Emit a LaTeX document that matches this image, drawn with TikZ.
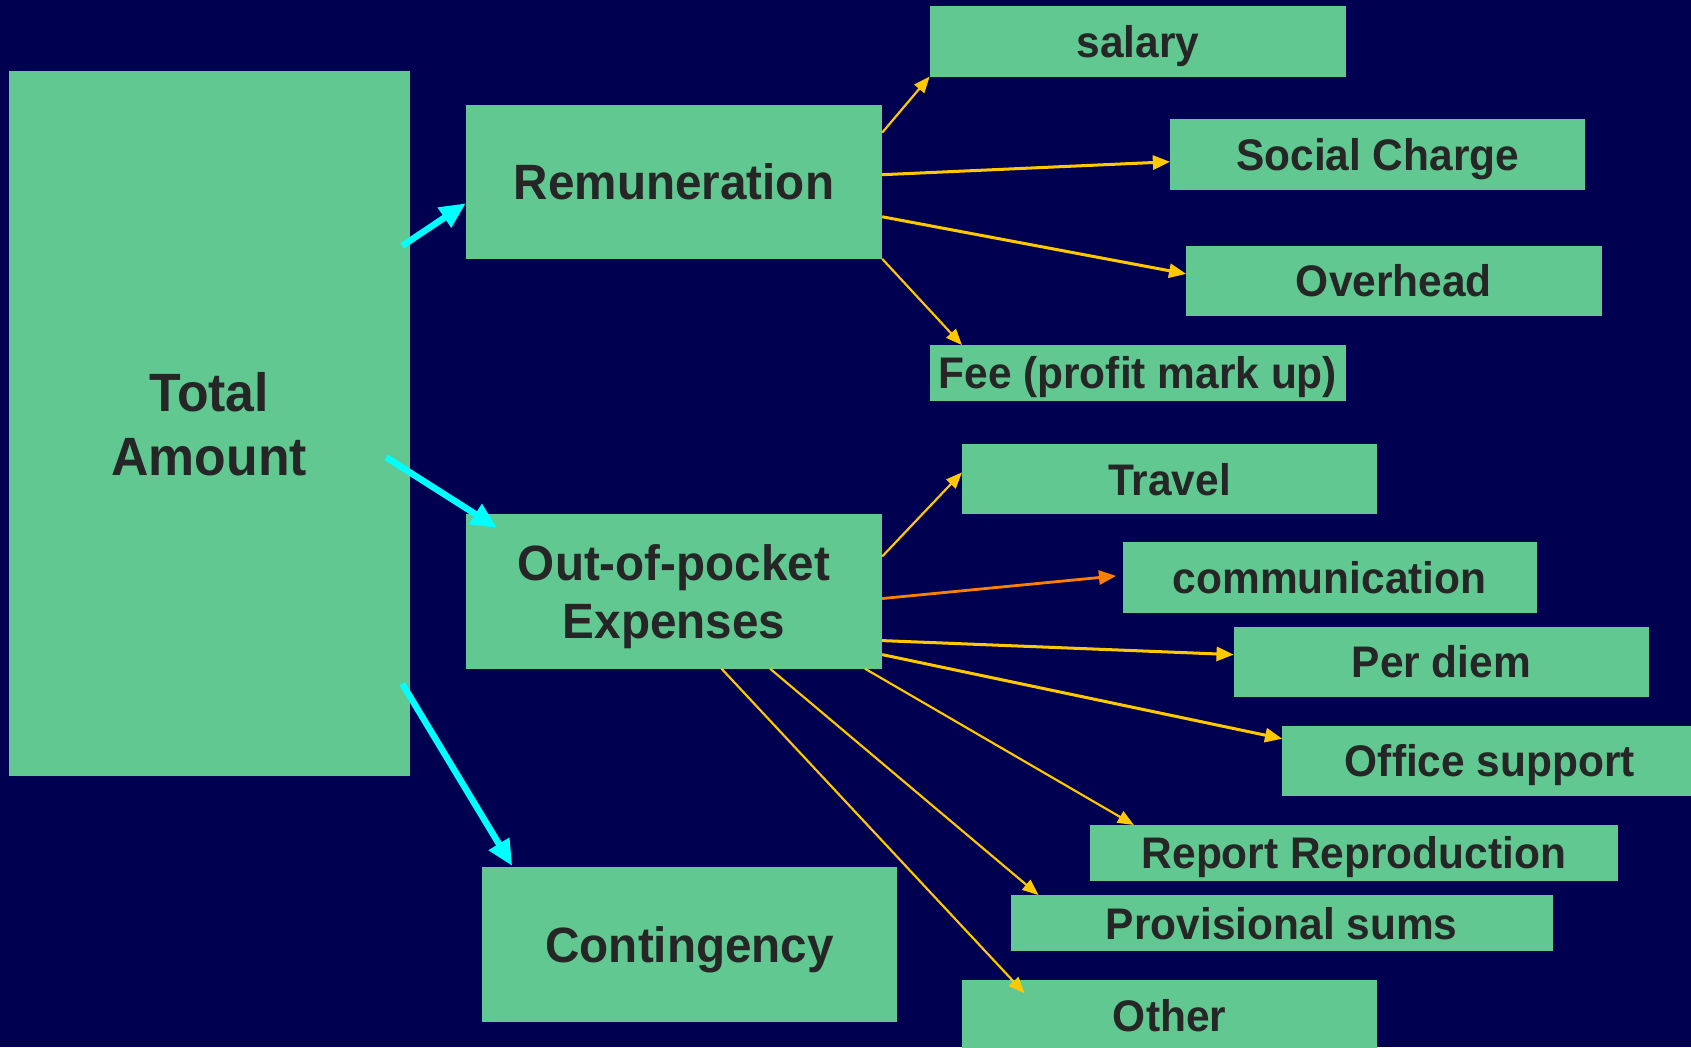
\documentclass[tikz,border=0pt]{standalone}
\usepackage{fontspec}
\setmainfont{Liberation Sans}[FakeStretch=0.96]
\usetikzlibrary{arrows.meta,calc}
\definecolor{bgnavy}{HTML}{000050}
\definecolor{boxgreen}{HTML}{60C890}
\definecolor{txtgray}{HTML}{262626}
\definecolor{arrowyellow}{HTML}{FFC800}
\definecolor{arroworange}{HTML}{FF8000}
\definecolor{arrowcyan}{HTML}{00FFFF}
\newcommand\twolines[2]{\vbox{\halign{\hfil##\hfil\cr#1\cr#2\cr}}}
\tikzset{
  gbox/.style={fill=boxgreen, inner sep=0pt, outer sep=0pt, text=txtgray},
  smallbox/.style={gbox, font=\bfseries\fontsize{41}{49}\selectfont, text height=29.4pt, text depth=0pt},
  bigbox/.style={gbox, font=\bfseries\fontsize{46}{54.5}\selectfont, text height=32.9pt, text depth=0pt},
  twobox/.style={gbox, font=\bfseries\fontsize{46}{54.5}\selectfont, text depth=0pt},
  cyanarrow/.style={draw=arrowcyan, line width=6pt, -{Triangle[length=24pt,width=21pt]}},
  yelthick/.style={draw=arrowyellow, line width=2.8pt, -{Triangle[length=16pt,width=13pt]}},
  yelthin/.style={draw=arrowyellow, line width=2pt, -{Triangle[length=15pt,width=12pt]}},
  orangearrow/.style={draw=arroworange, line width=2.6pt, -{Triangle[length=16pt,width=13pt]}}
}
\begin{document}
\begin{tikzpicture}[x=1pt,y=-1pt]
\useasboundingbox (0,0) rectangle (1568,971);
\fill[bgnavy] (0,0) rectangle (1568,971);

% main boxes
\node[gbox, font=\bfseries\fontsize{50}{59}\selectfont, text depth=0pt, minimum width=372pt, minimum height=654pt] (total) at (194,393) {\twolines{Total}{Amount}};
\node[bigbox, minimum width=386pt, minimum height=143pt] (rem) at (625,168.5) {Remuneration};
\node[twobox, minimum width=386pt, minimum height=143pt] (oop) at (625,548.5) {\twolines{Out-of-pocket}{Expenses}};
\node[bigbox, minimum width=385pt, minimum height=144pt] (cont) at (639.5,876) {Contingency};

% remuneration items
\node[smallbox, minimum width=386pt, minimum height=65pt] (salary) at (1055,38.5) {salary};
\node[smallbox, minimum width=385pt, minimum height=66pt] (social) at (1277.5,143) {Social Charge};
\node[smallbox, minimum width=385pt, minimum height=65pt] (overhead) at (1292.5,260.5) {Overhead};
\node[smallbox, minimum width=386pt, minimum height=52pt] (fee) at (1055,346) {Fee (profit mark up)};

% out-of-pocket items
\node[smallbox, minimum width=385pt, minimum height=65pt] (travel) at (1084.5,444.5) {Travel};
\node[smallbox, minimum width=384pt, minimum height=65pt] (comm) at (1233,535.5) {communication};
\node[smallbox, minimum width=385pt, minimum height=65pt] (perdiem) at (1336.5,613.5) {Per diem};
\node[smallbox, minimum width=385pt, minimum height=65pt] (office) at (1381.5,705.5) {Office support};
\node[smallbox, minimum width=489pt, minimum height=52pt] (rr) at (1255.5,791) {Report Reproduction};
\node[smallbox, minimum width=503pt, minimum height=52pt] (prov) at (1188.5,856) {Provisional sums};
\node[smallbox, minimum width=385pt, minimum height=65pt] (other) at (1084.5,941.5) {Other};

% cyan arrows
\draw[cyanarrow] ($(total.east)+(-7,-165)$) -- ($(rem.west)+(0,20)$);
\draw[cyanarrow] ($(total.east)+(-22,31)$) -- ($(oop.north west)+(29,12.5)$);
\draw[cyanarrow] ($(total.east)+(-7,241)$) -- ($(cont.north west)+(28,-1)$);

% remuneration arrows
\draw[yelthin] ($(rem.east)+(0,-45.5)$) -- (salary.south west);
\draw[yelthick] ($(rem.east)+(0,-6.5)$) -- ($(social.west)+(0,7)$);
\draw[yelthick] ($(rem.east)+(0,32.5)$) -- ($(overhead.west)+(0,-6.5)$);
\draw[yelthin] (rem.south east) -- ($(fee.north west)+(30,0)$);

% out-of-pocket arrows
\draw[yelthin] ($(oop.east)+(0,-32.5)$) -- ($(travel.west)+(0,-6.5)$);
\draw[orangearrow] ($(oop.east)+(0,6.5)$) -- ($(comm.west)+(-6,-1.5)$);
\draw[yelthick] ($(oop.east)+(0,45.5)$) -- ($(perdiem.west)+(0,-6.5)$);
\draw[yelthick] ($(oop.east)+(0,58.5)$) -- ($(office.west)+(0,-20.5)$);
\draw[yelthin] ($(oop.south east)+(-16,0)$) -- ($(rr.north west)+(40.5,0)$);
\draw[yelthin] ($(oop.south east)+(-104,0)$) -- ($(prov.north west)+(26,0)$);
\draw[yelthin] ($(oop.south east)+(-149,0)$) -- ($(other.north west)+(58,12)$);
\end{tikzpicture}
\end{document}
